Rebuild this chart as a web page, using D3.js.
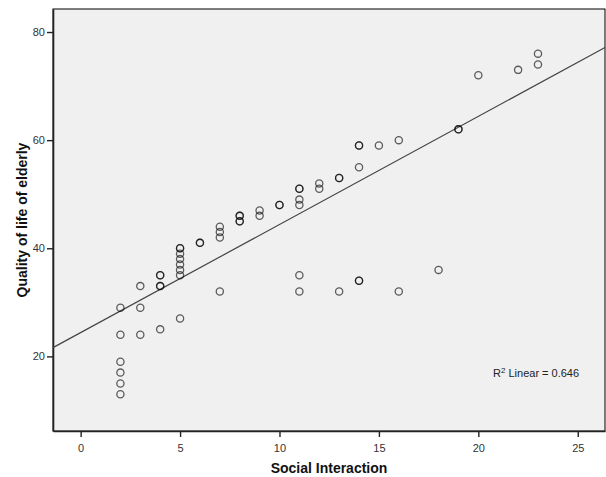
<!DOCTYPE html>
<html>
<head>
<meta charset="utf-8">
<script src="https://cdn.jsdelivr.net/npm/d3@7"></script>
<style>
  body { margin: 0; background: #fff; }
  svg text { font-family: "Liberation Sans", Arial, sans-serif; }
</style>
</head>
<body>
<div id="chart"></div>
<script>
// social interaction (x) and quality of life (y); repeated pairs are overlapping cases
var socialX = [2, 2, 2, 2, 2, 2,
  3, 3, 3,
  4, 4, 4, 4, 4,
  5, 5, 5, 5, 5, 5, 5, 5,
  6, 6,
  7, 7, 7, 7,
  8, 8, 8, 8,
  9, 9,
  10, 10,
  11, 11, 11, 11, 11, 11,
  12, 12,
  13, 13, 13,
  14, 14, 14, 14, 14,
  15,
  16, 16,
  18, 19, 19, 20, 22, 23, 23];
var qualityY = [29, 24, 19, 17, 15, 13,
  33, 29, 24,
  35, 35, 33, 33, 25,
  40, 40, 39, 38, 37, 36, 35, 27,
  41, 41,
  44, 43, 42, 32,
  46, 46, 45, 45,
  47, 46,
  48, 48,
  51, 51, 49, 48, 35, 32,
  52, 51,
  53, 53, 32,
  59, 59, 55, 34, 34,
  59,
  60, 32,
  36, 62, 62, 72, 73, 76, 74];

var xTicks = [0, 5, 10, 15, 20, 25];
var yTicks = [20, 40, 60, 80];

// linear fit as drawn on the chart
var fitIntercept = 24.4,
    fitSlope = 2.0,
    rSquared = "0.646";

var width = 606, height = 477;
var margin = {top: 9, right: 1, bottom: 46, left: 53};

var svg = d3.select("#chart").append("svg")
    .attr("width", width)
    .attr("height", height);

var x = d3.scaleLinear()
    .domain([-1.39, 26.37])
    .range([margin.left, width - margin.right]);

var y = d3.scaleLinear()
    .domain([6.2, 84.26])
    .range([height - margin.bottom, margin.top]);

// plot frame
svg.append("rect")
    .attr("x", margin.left)
    .attr("y", margin.top)
    .attr("width", width - margin.right - margin.left)
    .attr("height", height - margin.bottom - margin.top)
    .style("fill", "#f0f0f0")
    .style("stroke", "#000")
    .style("stroke-width", 1);

var xAxis = d3.axisBottom(x).tickValues(xTicks).tickSize(6).tickSizeOuter(0);
var yAxis = d3.axisLeft(y).tickValues(yTicks).tickSize(6).tickSizeOuter(0);

var gx = svg.append("g")
    .attr("transform", "translate(0," + (height - margin.bottom) + ")")
    .call(xAxis);

var gy = svg.append("g")
    .attr("transform", "translate(" + margin.left + ",0)")
    .call(yAxis);

[gx, gy].forEach(function(g) {
  g.select(".domain").style("stroke", "#222").style("stroke-width", 1.6);
  g.selectAll(".tick line").style("stroke", "#222").style("stroke-width", 1.4);
  g.selectAll(".tick text")
      .style("font-size", "11px")
      .style("fill", "#333");
});
gx.selectAll(".tick text").attr("dy", "1.05em");
gy.selectAll(".tick text").attr("x", -8);

// regression line
var x0 = x.domain()[0], x1 = x.domain()[1];
svg.append("line")
    .attr("x1", x(x0))
    .attr("y1", y(fitIntercept + fitSlope * x0))
    .attr("x2", x(x1))
    .attr("y2", y(fitIntercept + fitSlope * x1))
    .style("stroke", "#444")
    .style("stroke-width", 1.2);

// points
svg.append("g").selectAll("circle")
    .data(socialX)
  .enter().append("circle")
    .attr("cx", function(d) { return x(d); })
    .attr("cy", function(d, i) { return y(qualityY[i]); })
    .attr("r", 3.6)
    .style("fill", "none")
    .style("stroke", "#000")
    .style("stroke-opacity", 0.62)
    .style("stroke-width", 1.3);

// r squared label
var r2 = svg.append("text")
    .attr("x", 493)
    .attr("y", 377)
    .style("font-size", "11px")
    .style("fill", "#222");
r2.append("tspan").text("R");
r2.append("tspan").attr("dy", -4).style("font-size", "8px").text("2");
r2.append("tspan").attr("dy", 4).text(" Linear = " + rSquared);

// axis titles
svg.append("text")
    .attr("x", x((x0 + x1) / 2))
    .attr("y", 473)
    .attr("text-anchor", "middle")
    .style("font-size", "14px")
    .style("font-weight", "bold")
    .style("fill", "#111")
    .text("Social Interaction");

svg.append("text")
    .attr("transform", "translate(27," + y((6.2 + 84.26) / 2) + ") rotate(-90)")
    .attr("text-anchor", "middle")
    .style("font-size", "14px")
    .style("font-weight", "bold")
    .style("fill", "#111")
    .text("Quality of life of elderly");
</script>
</body>
</html>
